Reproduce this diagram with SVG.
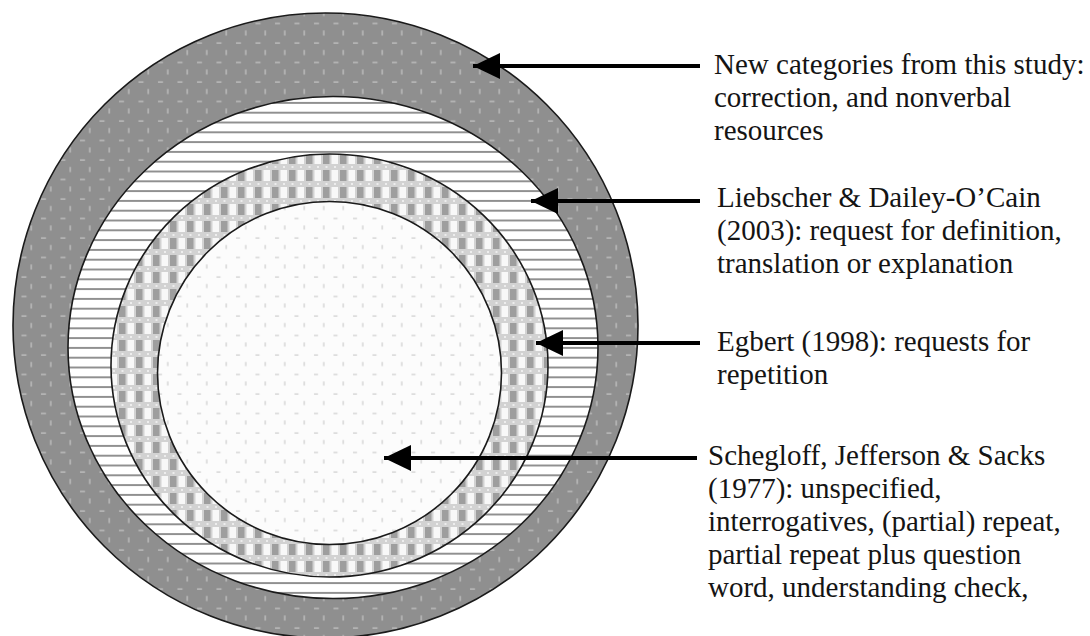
<svg xmlns="http://www.w3.org/2000/svg" width="1090" height="636" viewBox="0 0 1090 636">
  <style>
    .ring { stroke: #1a1a1a; stroke-width: 1.6; }
    .lbl { font-family: "Liberation Serif", "Times New Roman", serif; font-size: 29px; fill: #141414; }
    .arr { stroke: #000; stroke-width: 4; fill: none; marker-start: url(#head); }
  </style>
  <defs>
    <pattern id="pOuter" patternUnits="userSpaceOnUse" width="19.5" height="19.5">
      <rect width="19.5" height="19.5" fill="#8f8f8f"/>
      <line x1="2" y1="4" x2="7" y2="4" stroke="#d2d2d2" stroke-width="1"/>
      <line x1="11.75" y1="11" x2="11.75" y2="16" stroke="#d2d2d2" stroke-width="1"/>
    </pattern>
    <pattern id="pStripes" patternUnits="userSpaceOnUse" width="20" height="9.8">
      <rect width="20" height="9.8" fill="#ffffff"/>
      <line x1="0" y1="4.9" x2="20" y2="4.9" stroke="#4a4a4a" stroke-width="1.2"/>
    </pattern>
    <pattern id="pCheck" patternUnits="userSpaceOnUse" width="17" height="17">
      <rect width="17" height="17" fill="#d2d2d2"/>
      <rect x="0" y="0" width="6.5" height="11" fill="#9e9e9e"/>
      <rect x="8.5" y="0" width="6.5" height="11" fill="#f8f8f8"/>
      <rect x="2.5" y="13" width="2" height="2" fill="#ededed"/>
      <rect x="11" y="13" width="2" height="2" fill="#ededed"/>
    </pattern>
    <pattern id="pInner" patternUnits="userSpaceOnUse" width="19.5" height="19.5">
      <rect width="19.5" height="19.5" fill="#fcfcfc"/>
      <line x1="2" y1="4" x2="6" y2="4" stroke="#c4c4c4" stroke-width="1"/>
      <line x1="11.75" y1="11" x2="11.75" y2="15" stroke="#c4c4c4" stroke-width="1"/>
    </pattern>
    <marker id="head" markerUnits="userSpaceOnUse" markerWidth="30" markerHeight="30" refX="0" refY="13" orient="auto" viewBox="0 0 30 26" overflow="visible">
      <path d="M0,13 L27,0 L27,26 Z" fill="#000"/>
    </marker>
  </defs>
  <rect width="1090" height="636" fill="#ffffff"/>

  <g id="ring-new-categories">
    <circle class="ring" cx="325.5" cy="325.5" r="312.5" fill="url(#pOuter)"/>
  </g>
  <g id="ring-liebscher">
    <ellipse class="ring" cx="333" cy="347.5" rx="265" ry="251" fill="url(#pStripes)"/>
  </g>
  <g id="ring-egbert">
    <ellipse class="ring" cx="329.5" cy="365.5" rx="218.5" ry="211.5" fill="url(#pCheck)"/>
  </g>
  <g id="core-schegloff">
    <ellipse class="ring" cx="329.5" cy="373" rx="172" ry="171.5" fill="url(#pInner)"/>
  </g>

  <g id="connectors">
    <path class="arr" d="M473,66 H700"/>
    <path class="arr" d="M531,201 H700"/>
    <path class="arr" d="M536,343 H700"/>
    <path class="arr" d="M384,458 H697"/>
  </g>

  <g id="label-new-categories">
    <text class="lbl" x="714" y="74">New categories from this study:</text>
    <text class="lbl" x="714" y="107">correction, and nonverbal</text>
    <text class="lbl" x="714" y="140">resources</text>
  </g>
  <g id="label-liebscher">
    <text class="lbl" x="717" y="207">Liebscher &amp; Dailey-O’Cain</text>
    <text class="lbl" x="717" y="240">(2003): request for definition,</text>
    <text class="lbl" x="717" y="273">translation or explanation</text>
  </g>
  <g id="label-egbert">
    <text class="lbl" x="717" y="351">Egbert (1998): requests for</text>
    <text class="lbl" x="717" y="384">repetition</text>
  </g>
  <g id="label-schegloff">
    <text class="lbl" x="708" y="465">Schegloff, Jefferson &amp; Sacks</text>
    <text class="lbl" x="708" y="498">(1977): unspecified,</text>
    <text class="lbl" x="708" y="531">interrogatives, (partial) repeat,</text>
    <text class="lbl" x="708" y="564">partial repeat plus question</text>
    <text class="lbl" x="708" y="597">word, understanding check,</text>
  </g>
</svg>
